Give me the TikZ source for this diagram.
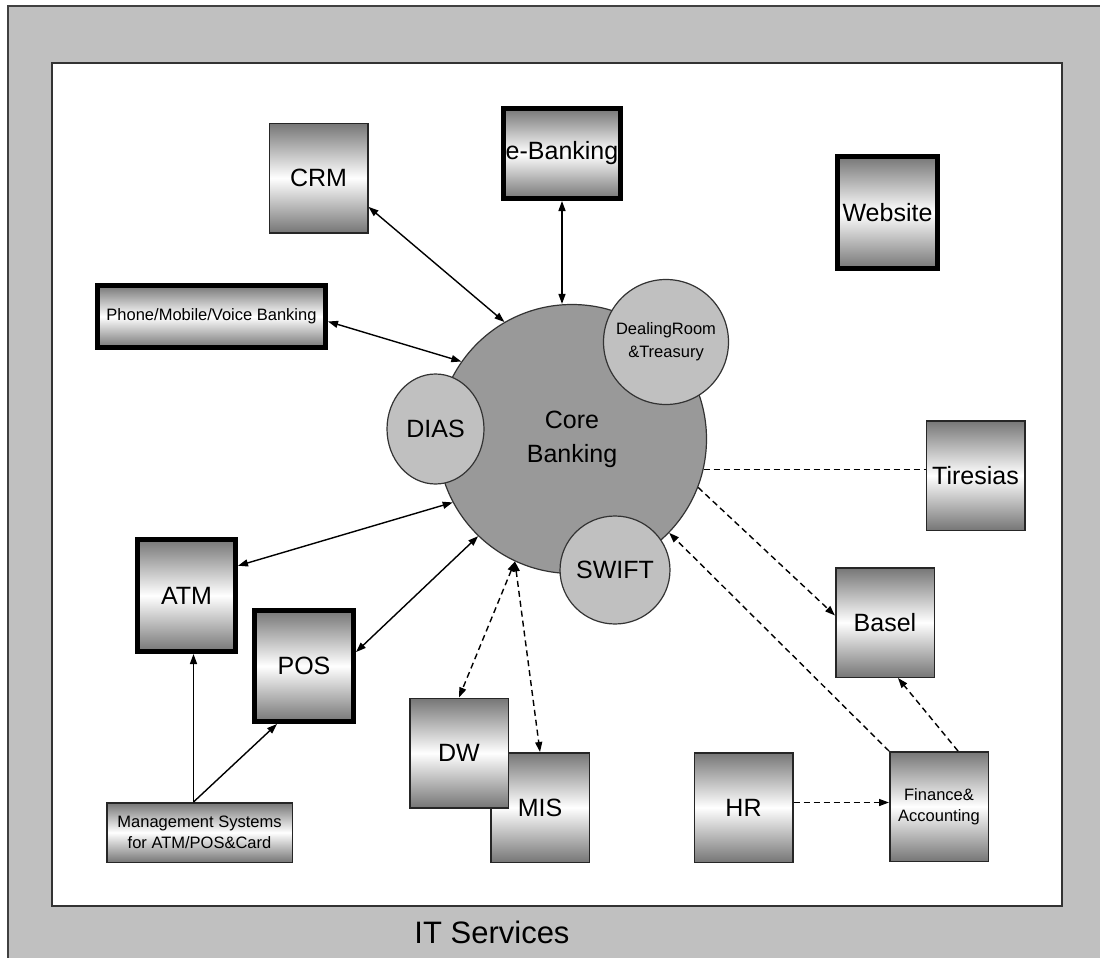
\documentclass[tikz,border=0pt]{standalone}
\usepackage{fontspec}
\setmainfont{Liberation Sans}
\usepackage{tikz}
\usetikzlibrary{arrows.meta,
                shapes.geometric}
\definecolor{BG}{RGB}{192,192,192}
\definecolor{GR}{RGB}{118,118,118}
\definecolor{CR}{RGB}{153,153,153}

\begin{document}
\begin{tikzpicture}[
x=1pt, y=-1pt,
>={Triangle[length=10pt,width=7pt]},
   BOX/.style = {draw=black!85, line width=1.5pt, inner sep=0pt, align=center,
                 minimum width=98.5pt, minimum height=109.5pt,
                 top color=GR, bottom color=GR, middle color=white,
                 font=\fontsize{25}{28}\selectfont},
   BXT/.style = {BOX, draw=black, line width=5pt,
                 minimum width=99pt, minimum height=112pt},% thick border
    SM/.style = {font=\fontsize{16.5}{21}\selectfont},
    CC/.style = {circle, draw=black!80, line width=1.2pt, fill=BG,
                 inner sep=0pt, align=center,
                 font=\fontsize{25}{34}\selectfont},
   LNK/.style = {line width=1.4pt},
   DSH/.style = {LNK, dash pattern=on 6pt off 4pt}
                        ]
\useasboundingbox (0,0) rectangle (1100,958);
% frame
\fill[BG] (8,6) rectangle (1100,958);
\draw[line width=1.5pt, black!75] (8,958) -- (8,6) -- (1100,6);
\filldraw[fill=white, draw=black!80, line width=1.5pt] (52,63) rectangle (1062,906);
\node[font=\fontsize{31}{34}\selectfont] (its) at (492,932) {IT Services};
% core banking
\node[CC, fill=CR, minimum size=269pt] (core) at (572,439) {Core\\Banking};
\node[CC, ellipse, minimum width=97pt, minimum height=110pt] (dias) at (435.5,429) {DIAS};
\node[CC, SM, minimum size=125pt, font=\fontsize{16.5}{23}\selectfont] (deal) at (666,342) {DealingRoom\\\&Treasury};
\node[CC, ellipse, minimum width=97pt, minimum height=108pt] (swift) at (615,570) {SWIFT};
% boxes
\node[BOX] (crm) at (318.5,178) {CRM};
\node[BXT, minimum width=117pt, minimum height=90pt] (ebank) at (562,153.5) {e-Banking};
\node[BXT, minimum width=100pt] (web) at (887.5,212.5) {Website};
\node[BXT, SM, minimum width=228pt, minimum height=62pt] (phone) at (211.5,316.5) {Phone/Mobile/Voice Banking};
\node[BXT, minimum width=98pt] (atm) at (186.5,595.5) {ATM};
\node[BXT, minimum height=111pt] (pos) at (304,666) {POS};
\node[BOX, SM, minimum width=185.5pt, minimum height=59.5pt] (mgmt) at (199.5,832.5) {Management Systems\\for ATM/POS\&Card};
\node[BOX] (mis) at (540,807.5) {MIS};
\node[BOX] (dw) at (459,753) {DW};
\node[BOX] (hr) at (743.5,807.5) {HR};
\node[BOX, SM] (fin) at (939,806.5) {Finance\&\\Accounting};
\node[BOX] (basel) at (885,622.5) {Basel};
\node[BOX] (tir) at (975.5,475.5) {Tiresias};
% solid links
\draw[LNK, <->] (crm.-30) -- (core.120);
\draw[LNK, <->] (ebank.south) -- (ebank.south |- core.north);
\draw[LNK, <->] ([yshift=-5pt]phone.east) -- (core.145);
\draw[LNK, <->] (atm.30) -- (core.208);
\draw[LNK, <->] (pos.15) -- (core.226);
\coordinate (msrc) at ([xshift=-6pt]mgmt.north);
\draw[LNK, ->] (msrc) -- (msrc |- atm.south);
\draw[LNK, ->] (msrc) -- (pos.-115);
% dashed links
\draw[DSH, <->] (core.-115) -- (dw.north);
\draw[DSH, <->] (core.-115) -- (mis.north);
\draw[DSH] (core.-13) -- (core.-13 -| tir.west);
\draw[DSH, ->] (core.-21) -- (basel.172);
\draw[DSH, ->] (fin.north west) -- (core.-44);
\draw[DSH, ->] ([xshift=19pt]fin.north) -- ([xshift=13pt]basel.south);
\draw[DSH, ->] ([yshift=5pt]hr.east) -- ([yshift=5pt]hr.east -| fin.west);
\end{tikzpicture}
\end{document}
